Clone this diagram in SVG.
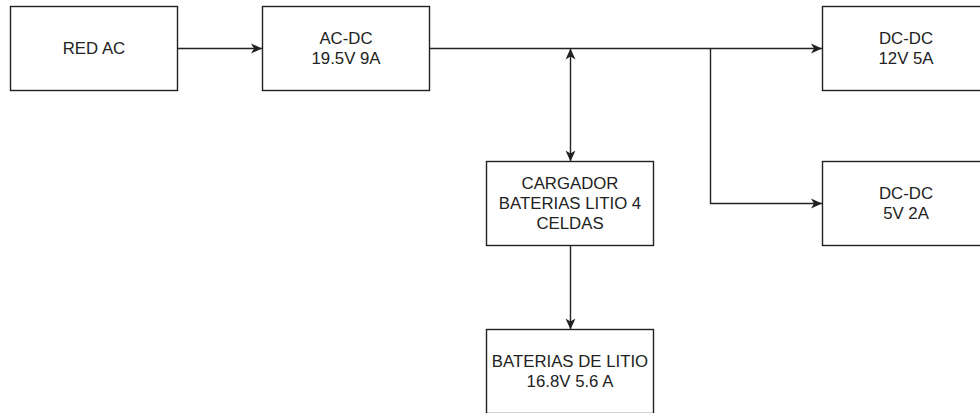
<svg xmlns="http://www.w3.org/2000/svg" width="980" height="413" viewBox="0 0 980 413">
<style>
.box{fill:#fff;stroke:#222;stroke-width:1.4}
.lbl{font-family:"Liberation Sans",Arial,sans-serif;font-size:16.8px;fill:#222;text-anchor:middle;dominant-baseline:central}
.edge{fill:none;stroke:#222;stroke-width:1.4}
</style>
<defs>
<marker id="arr" markerUnits="userSpaceOnUse" markerWidth="12" markerHeight="12" refX="11" refY="6" orient="auto-start-reverse">
<path d="M0,1 L11,6 L0,11 L3,6 Z" fill="#222"/>
</marker>
</defs>
<rect width="980" height="413" fill="#fff"/>
<g id="red-ac"><rect class="box" x="10.5" y="6.5" width="167" height="84"/><text class="lbl" x="94" y="48.5">RED AC</text></g>
<g id="ac-dc"><rect class="box" x="262.5" y="6.5" width="167" height="84"/><text class="lbl" x="346" y="38.4">AC-DC</text><text class="lbl" x="346" y="58.6">19.5V 9A</text></g>
<g id="dcdc-12"><rect class="box" x="822.5" y="6.5" width="167" height="84"/><text class="lbl" x="906" y="38.4">DC-DC</text><text class="lbl" x="906" y="58.6">12V 5A</text></g>
<g id="dcdc-5"><rect class="box" x="822.5" y="161.5" width="167" height="84"/><text class="lbl" x="906" y="193.4">DC-DC</text><text class="lbl" x="906" y="213.6">5V 2A</text></g>
<g id="cargador"><rect class="box" x="486.5" y="161.5" width="167" height="84"/><text class="lbl" x="570" y="183.3">CARGADOR</text><text class="lbl" x="570" y="203.5">BATERIAS LITIO 4</text><text class="lbl" x="570" y="223.7">CELDAS</text></g>
<g id="baterias"><rect class="box" x="486.5" y="329.5" width="167" height="84"/><text class="lbl" x="570" y="361.4">BATERIAS DE LITIO</text><text class="lbl" x="570" y="381.6">16.8V 5.6 A</text></g>
<g id="connectors">
<path class="edge" d="M178,48.5 L262,48.5" marker-end="url(#arr)"/>
<path class="edge" d="M430,48.5 L822,48.5" marker-end="url(#arr)"/>
<path class="edge" d="M570.5,48.5 L570.5,161.5" marker-start="url(#arr)" marker-end="url(#arr)"/>
<path class="edge" d="M710.5,48.5 L710.5,203.5 L822,203.5" marker-end="url(#arr)"/>
<path class="edge" d="M570.5,245.5 L570.5,329.5" marker-end="url(#arr)"/>
</g>
</svg>
